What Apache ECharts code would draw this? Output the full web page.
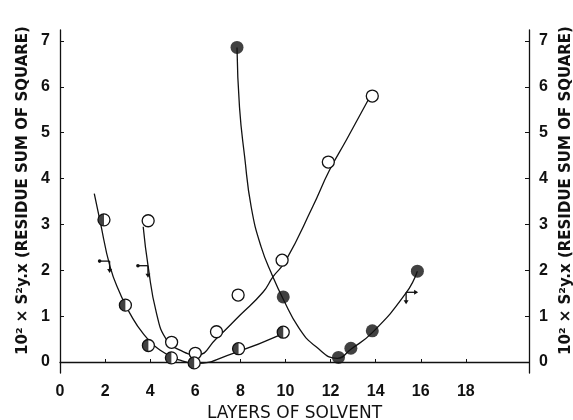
<!DOCTYPE html>
<html>
<head>
<meta charset="utf-8">
<script src="https://cdn.jsdelivr.net/npm/echarts@6/dist/echarts.min.js"></script>
<style>
  html, body { margin: 0; padding: 0; background: #fff; }
  #chart { width: 573px; height: 420px; }
</style>
</head>
<body>
<div id="chart"></div>
<script>
// measured points (layers, 10^2 x residue)
var pointsA = [[7.85, 6.86], [9.9, 1.42], [12.35, 0.1], [12.9, 0.3], [13.85, 0.68], [15.85, 1.98]]
var pointsB = [[3.91, 3.08], [4.95, 0.43], [6.0, 0.19], [6.94, 0.66], [7.9, 1.46], [9.85, 2.22], [11.9, 4.36], [13.85, 5.8]]
var pointsC = [[1.95, 3.1], [2.9, 1.24], [3.92, 0.36], [4.94, 0.09], [5.95, -0.02], [7.92, 0.29], [9.9, 0.65]]

// fitted curves
var curveA = [[7.85, 6.86], [7.96, 5.56], [8.19, 4.47], [8.48, 3.38], [8.92, 2.51], [9.44, 1.86], [9.88, 1.39],
  [10.6, 0.74], [11.36, 0.33], [12.3, 0.08], [12.9, 0.28], [13.85, 0.64], [15.34, 1.5], [15.85, 1.98]]
var curveB = [[3.69, 2.95], [3.91, 2.08], [4.28, 1.06], [4.73, 0.48], [5.32, 0.26], [6.06, 0.15], [6.95, 0.52],
  [7.98, 1.02], [9.0, 1.52], [9.45, 1.86], [10.0, 2.2], [11.2, 3.38], [11.95, 4.18], [12.7, 4.84], [13.74, 5.78]]
var curveC = [[1.52, 3.67], [1.77, 3.09], [2.22, 2.08], [2.66, 1.5], [3.1, 1.06], [3.69, 0.62], [4.43, 0.26],
  [5.32, 0.04], [5.98, -0.03], [7.68, 0.19], [9.9, 0.62]]

// curve letters and the small limit marks
var curveLabels = [['A', 7.45, 6.38], ['B', 3.32, 2.73], ['C', 1.33, 2.67]]
var limitMarks = [[2.2, 2.2, -1], [3.9, 2.1, -1], [15.35, 1.52, 1]]

var xTicks = [0, 2, 4, 6, 8, 10, 12, 14, 16, 18]
var yTicks = [0, 1, 2, 3, 4, 5, 6, 7]

var yName = '10² × S²y.x (RESIDUE SUM OF SQUARE)'
var halfDisc = 'path://M10,0 A10,10 0 0,0 10,20 Z'
var ink = '#111'
var font = 'Liberation Sans'

function yAxisCfg(pos) {
  return {
    type: 'value',
    position: pos,
    min: -0.24,
    max: 7.24,
    name: yName,
    nameLocation: 'middle',
    nameGap: 28,
    nameRotate: 90,
    nameTextStyle: { color: ink, fontFamily: 'DejaVu Sans', fontSize: 15, fontWeight: 'bold', padding: [0, 0, 0, 22] },
    splitLine: { show: false },
    axisLine: { show: true, lineStyle: { color: ink, width: 1.3 } },
    axisTick: { show: true, inside: true, length: 4, customValues: yTicks, lineStyle: { color: ink } },
    axisLabel: { customValues: yTicks, color: ink, fontFamily: font, fontSize: 16, fontWeight: 'bold', margin: 10 },
  }
}

function lineSeries(data) {
  return {
    type: 'line',
    data: data,
    smooth: 0.5,
    showSymbol: false,
    silent: true,
    lineStyle: { color: ink, width: 1.3 },
    z: 2,
  }
}

var chart = echarts.init(document.getElementById('chart'))
chart.setOption({
  animation: false,
  backgroundColor: '#fff',
  grid: { left: 60, right: 44, top: 30, bottom: 47, outerBoundsMode: 'none', containLabel: false },
  xAxis: {
    type: 'value',
    min: 0,
    max: 20.8,
    name: 'LAYERS OF SOLVENT',
    nameLocation: 'middle',
    nameGap: 31,
    nameTextStyle: { color: ink, fontFamily: 'DejaVu Sans', fontSize: 17 },
    splitLine: { show: false },
    axisLine: { lineStyle: { color: ink, width: 1.3 } },
    axisTick: { inside: true, length: 3, customValues: xTicks, lineStyle: { color: ink } },
    axisLabel: { customValues: xTicks, color: ink, fontFamily: font, fontSize: 16, fontWeight: 'bold', margin: 11 },
  },
  yAxis: [yAxisCfg('left'), yAxisCfg('right')],
  series: [
    lineSeries(curveA),
    lineSeries(curveB),
    lineSeries(curveC),
    {
      type: 'scatter',
      data: pointsA,
      symbol: 'circle',
      symbolSize: 13,
      itemStyle: { color: ink },
      z: 5,
    },
    {
      type: 'scatter',
      data: pointsB.concat(pointsC),
      symbol: 'circle',
      symbolSize: 12,
      itemStyle: { color: '#fff', borderColor: ink, borderWidth: 1.3, opacity: 1 },
      z: 5,
    },
    {
      type: 'scatter',
      data: pointsC,
      symbol: halfDisc,
      symbolSize: 12,
      symbolKeepAspect: true,
      symbolOffset: [-3, 0],
      itemStyle: { color: ink },
      z: 6,
    },
    {
      type: 'scatter',
      data: curveLabels.map(function (d) { return { name: d[0], value: [d[1], d[2]] } }),
      symbolSize: 1,
      itemStyle: { opacity: 0 },
      label: {
        show: true,
        position: 'inside',
        formatter: '{b}',
        color: ink,
        fontFamily: font,
        fontSize: 13,
        fontWeight: 'bold',
      },
      z: 6,
    },
    {
      type: 'custom',
      data: limitMarks,
      z: 6,
      renderItem: function (params, api) {
        var p = api.coord([api.value(0), api.value(1)])
        var dir = api.value(2)
        var st = { stroke: ink, lineWidth: 1.3 }
        var kids = [
          { type: 'line', shape: { x1: p[0], y1: p[1], x2: p[0], y2: p[1] + 10 }, style: st },
          { type: 'polygon', shape: { points: [[p[0] - 2.5, p[1] + 8], [p[0] + 2.5, p[1] + 8], [p[0], p[1] + 12]] }, style: { fill: ink } },
          { type: 'line', shape: { x1: p[0], y1: p[1], x2: p[0] + dir * 10, y2: p[1] }, style: st },
        ]
        if (dir > 0) {
          kids.push({ type: 'polygon', shape: { points: [[p[0] + 8, p[1] - 2.5], [p[0] + 8, p[1] + 2.5], [p[0] + 12, p[1]]] }, style: { fill: ink } })
        } else {
          kids.push({ type: 'circle', shape: { cx: p[0] - 10, cy: p[1], r: 1.8 }, style: { fill: ink } })
        }
        return { type: 'group', children: kids }
      },
    },
  ],
})
</script>
</body>
</html>
